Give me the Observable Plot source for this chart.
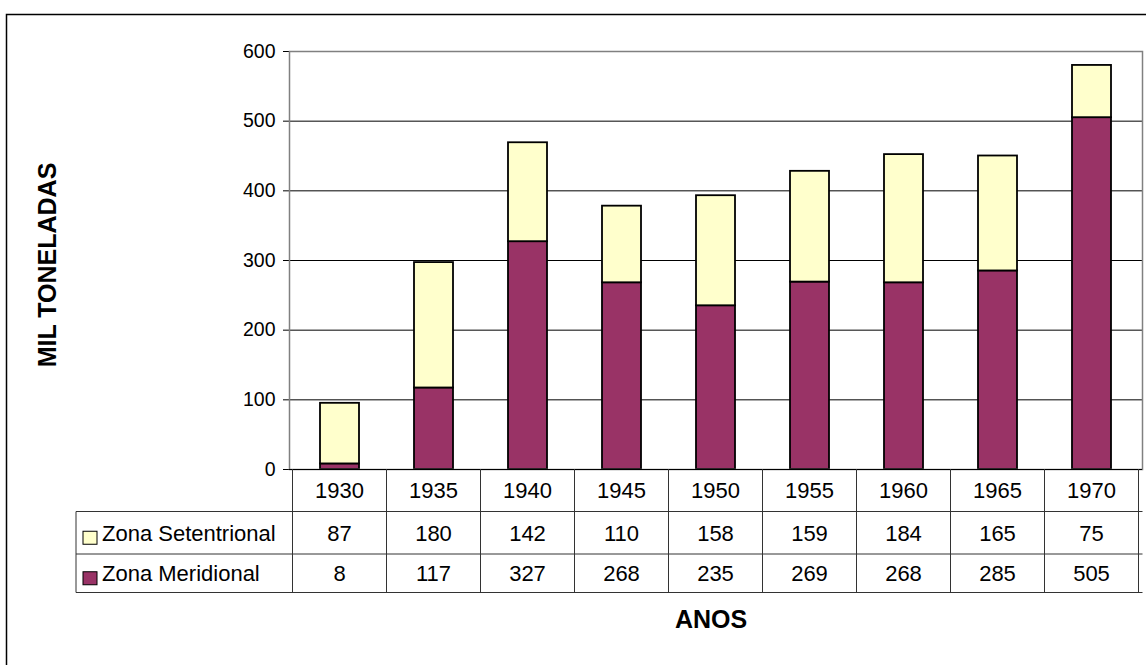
<!DOCTYPE html>
<html><head><meta charset="utf-8">
<script src="https://cdn.jsdelivr.net/npm/d3@7"></script>
<script src="https://cdn.jsdelivr.net/npm/@observablehq/plot@0.6"></script>
<style>html,body{margin:0;padding:0;background:#fff;overflow:hidden}</style>
</head><body><div id="chart"></div>
<script>
const years = ["1930","1935","1940","1945","1950","1955","1960","1965","1970"];
const setentrional = [87,180,142,110,158,159,184,165,75];
const meridional = [8,117,327,268,235,269,268,285,505];
const zones = ["Zona Meridional","Zona Setentrional"];
const zoneColors = ["#993366","#FFFFCC"];
const tableRows = [
  {name: "Zona Setentrional", values: setentrional, color: "#FFFFCC"},
  {name: "Zona Meridional", values: meridional, color: "#993366"}
];
const yTicks = [0,100,200,300,400,500,600];
const yTitle = "MIL TONELADAS";
const xTitle = "ANOS";

const data = [];
years.forEach((yr, i) => {
  data.push({year: yr, zone: zones[0], value: meridional[i]});
  data.push({year: yr, zone: zones[1], value: setentrional[i]});
});

const FONT = '"Liberation Sans", Arial, Helvetica, sans-serif';

function tableMark(index, scales, values, dims) {
  const x = scales.x, y = scales.y;
  const bw = x.bandwidth();
  const step = x.step();
  const off = (step - bw) / 2;
  const y0 = y(0);
  const right = dims.width - dims.marginRight;
  const legendLeft = 76;
  const rowTops = [y0, y0 + 42.5, y0 + 85, y0 + 123.5];
  const g = d3.create("svg:g").attr("font-family", FONT).attr("fill", "#000");
  // outer chart-area frame (left and top edges visible)
  g.append("path").attr("d", `M6.5,${dims.height}V14.5H${dims.width}`)
    .attr("fill", "none").attr("stroke", "#000").attr("stroke-width", 1.5);
  const lines = g.append("g").attr("stroke", "#333").attr("stroke-width", 1).attr("fill", "none");
  // horizontal lines
  for (let r = 1; r < rowTops.length; r++) {
    lines.append("line").attr("x1", legendLeft).attr("x2", right + 0.5)
      .attr("y1", rowTops[r]).attr("y2", rowTops[r]);
  }
  // vertical lines
  const bounds = years.map(yr => x(yr) - off);
  bounds.push(x(years[years.length - 1]) + bw + off);
  bounds.forEach(bx => {
    lines.append("line").attr("x1", bx).attr("x2", bx).attr("y1", y0).attr("y2", rowTops[3]);
  });
  lines.append("line").attr("x1", legendLeft).attr("x2", legendLeft).attr("y1", rowTops[1]).attr("y2", rowTops[3]);
  // year labels
  const t = g.append("g").attr("font-size", 22).attr("text-anchor", "middle");
  years.forEach(yr => {
    t.append("text").attr("x", x(yr) + bw / 2).attr("y", (rowTops[0] + rowTops[1]) / 2 + 7.5).text(yr);
  });
  tableRows.forEach((row, r) => {
    const cy = (rowTops[r + 1] + rowTops[r + 2]) / 2;
    row.values.forEach((v, i) => {
      t.append("text").attr("x", x(years[i]) + bw / 2).attr("y", cy + 8).text(v);
    });
    g.append("rect").attr("x", 83).attr("y", cy - 1.5).attr("width", 14).attr("height", 13)
      .attr("fill", row.color).attr("stroke", "#000").attr("stroke-width", 1);
    g.append("text").attr("x", 102).attr("y", cy + 8).attr("font-size", 22)
      .attr("text-anchor", "start").text(row.name);
  });
  // axis titles
  g.append("text").attr("x", 711).attr("y", 628).attr("text-anchor", "middle")
    .attr("font-size", 25).attr("font-weight", "bold").text(xTitle);
  g.append("text").attr("transform", "translate(56,265) rotate(-90)").attr("text-anchor", "middle")
    .attr("font-size", 25).attr("font-weight", "bold").text(yTitle);
  return g.node();
}

const chart = Plot.plot({
  width: 1146,
  height: 665,
  marginLeft: 289,
  marginRight: 4,
  marginTop: 51,
  marginBottom: 196,
  style: {fontFamily: FONT, fontSize: "19.5px", background: "#fff", color: "#000", overflow: "visible"},
  x: {type: "band", domain: years, paddingInner: 0.59, paddingOuter: 0.295, axis: null},
  y: {domain: [0, 600], ticks: 6, tickSize: 6, tickPadding: 8, label: null},
  color: {domain: zones, range: zoneColors},
  marks: [
    Plot.ruleY(yTicks.slice(1), {stroke: "#000", strokeWidth: 1}),
    Plot.barY(data, {x: "year", y: "value", fill: "zone", stroke: "#000", strokeWidth: 1.8, order: zones}),
    Plot.frame({stroke: "#808080", strokeWidth: 1.5}),
    Plot.ruleY([0], {stroke: "#000", strokeWidth: 1}),
    tableMark
  ]
});
document.getElementById("chart").appendChild(chart);
</script>
</body></html>
